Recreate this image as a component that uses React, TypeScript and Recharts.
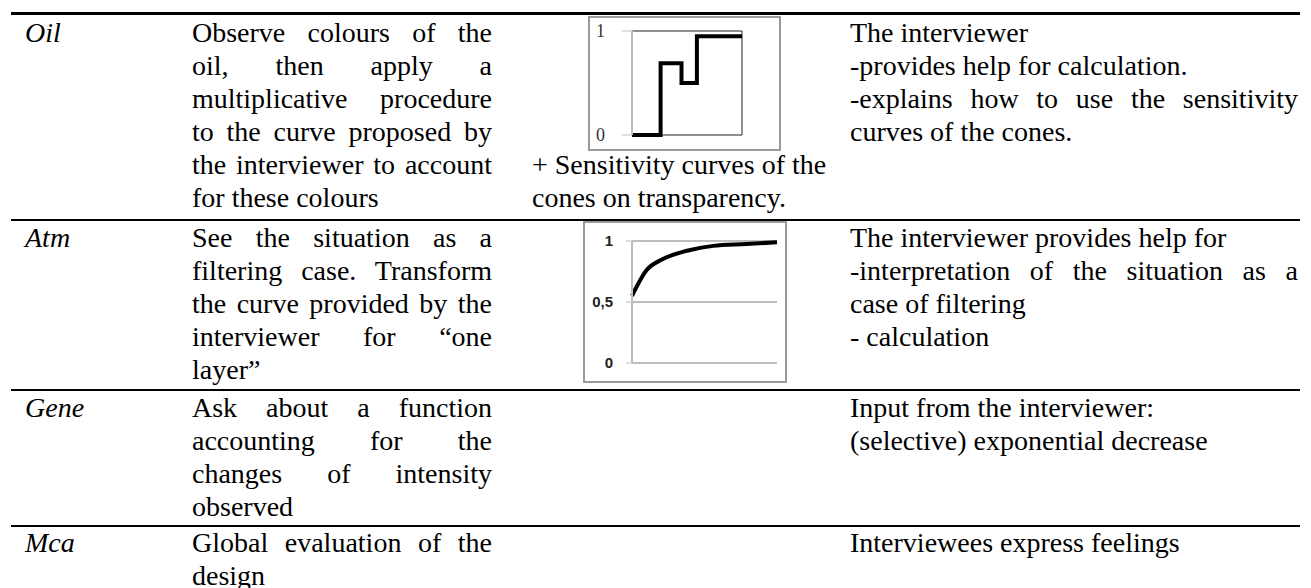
import React from 'react';
import { LineChart, Line, XAxis, YAxis, CartesianGrid, ReferenceLine } from 'recharts';

// Oil: stepped transmission curve (x = fraction of spectrum)
const oilX = [0, 0.26, 0.45, 0.59, 1];
const oilY = [0, 0.69, 0.5, 0.95, 0.95];
const oilTicks = [0, 1];

// Atm: filtering curve
const atmX = [0, 0.1, 0.21, 0.38, 0.56, 0.79, 1];
const atmY = [0.55, 0.76, 0.85, 0.92, 0.96, 0.975, 0.99];
const atmTicks = [0, 0.5, 1];

const oilData = oilX.map((x, i) => ({ x, y: oilY[i] }));
const atmData = atmX.map((x, i) => ({ x, y: atmY[i] }));

const FONT = 'Liberation Serif, Tinos, "Times New Roman", "DejaVu Serif", serif';
const LH = 33;

type LineProps = { x: number; top: number; w?: number; j?: boolean; it?: boolean; children: React.ReactNode };

// one text line of the table, justified when j is set
const T = ({ x, top, w, j, it, children }: LineProps) => (
    <div
        style={{
            position: 'absolute',
            left: x,
            top,
            width: w,
            whiteSpace: 'nowrap',
            fontFamily: FONT,
            fontSize: 28,
            lineHeight: `${LH}px`,
            height: LH,
            fontStyle: it ? 'italic' : 'normal',
            textAlign: j ? 'justify' : 'left',
            textAlignLast: j ? 'justify' : 'left',
            color: '#000',
        }}
    >
        {children}
    </div>
);

const Rule = ({ top, h }: { top: number; h: number }) => (
    <div style={{ position: 'absolute', left: 11, width: 1289, top, height: h, background: '#000' }} />
);

const C1 = 25;
const C2 = 192;
const W2 = 300;
const C3 = 532;
const C4 = 850;
const W4 = 448;

const rows = [16, 221, 391, 526];
const ln = (r: number, k: number) => rows[r] + k * LH;

const OilChart = () => (
    <div style={{ position: 'absolute', left: 588, top: 16, width: 193, height: 135, border: '2px solid #9a9a9a', boxSizing: 'border-box', background: '#fff' }}>
        <div style={{ position: 'absolute', left: -2, top: -2 }}>
            <LineChart width={193} height={135} data={oilData} margin={{ top: 15, right: 39, bottom: 16, left: 0 }}>
                <CartesianGrid horizontal vertical={false} stroke="#222" strokeWidth={1} />
                <XAxis type="number" dataKey="x" domain={[0, 1]} hide />
                <YAxis
                    type="number"
                    domain={[0, 1]}
                    ticks={oilTicks}
                    width={44}
                    axisLine={{ stroke: '#bdbdbd', strokeWidth: 2 }}
                    tickLine={{ stroke: '#bdbdbd' }}
                    tickSize={10}
                    tickMargin={17}
                    tick={{ fontFamily: FONT, fontSize: 18, fill: '#333' }}
                />
                <ReferenceLine x={1} stroke="#222" strokeWidth={1} />
                <Line type="stepAfter" dataKey="y" stroke="#000" strokeWidth={4} dot={false} isAnimationActive={false} />
            </LineChart>
        </div>
    </div>
);

const AtmChart = () => (
    <div style={{ position: 'absolute', left: 583, top: 221, width: 204, height: 162, border: '2px solid #9a9a9a', boxSizing: 'border-box', background: '#fff' }}>
        <div style={{ position: 'absolute', left: -2, top: -2 }}>
            <LineChart width={204} height={162} data={atmData} margin={{ top: 20, right: 10, bottom: 20, left: 0 }}>
                <CartesianGrid horizontal vertical={false} stroke="#a8a8a8" strokeWidth={1.5} />
                <XAxis type="number" dataKey="x" domain={[0, 1]} hide />
                <YAxis
                    type="number"
                    domain={[0, 1]}
                    ticks={atmTicks}
                    width={49}
                    axisLine={{ stroke: '#bdbdbd', strokeWidth: 2 }}
                    tickLine={{ stroke: '#bdbdbd' }}
                    tickSize={6}
                    tickMargin={13}
                    tickFormatter={(v: number) => (v === 0.5 ? '0,5' : String(v))}
                    tick={{ fontFamily: '"Liberation Sans", Arial, sans-serif', fontSize: 15, fontWeight: 'bold', fill: '#222' }}
                />
                <Line type="monotone" dataKey="y" stroke="#000" strokeWidth={4} dot={false} isAnimationActive={false} />
            </LineChart>
        </div>
    </div>
);

export default function App() {
    return (
        <div style={{ position: 'absolute', left: 0, top: 0, width: 1311, height: 588, overflow: 'hidden', background: '#fff' }}>
            <Rule top={12} h={3} />
            <Rule top={219} h={2} />
            <Rule top={389} h={2} />
            <Rule top={525} h={2} />

            {/* Oil */}
            <T x={C1} top={ln(0, 0)} it>Oil</T>
            <T x={C2} top={ln(0, 0)} w={W2} j>Observe colours of the</T>
            <T x={C2} top={ln(0, 1)} w={W2} j>oil, then apply a</T>
            <T x={C2} top={ln(0, 2)} w={W2} j>multiplicative procedure</T>
            <T x={C2} top={ln(0, 3)} w={W2} j>to the curve proposed by</T>
            <T x={C2} top={ln(0, 4)} w={W2} j>the interviewer to account</T>
            <T x={C2} top={ln(0, 5)}>for these colours</T>
            <OilChart />
            <T x={C3} top={ln(0, 4)}>+ Sensitivity curves of the</T>
            <T x={C3} top={ln(0, 5)}>cones on transparency.</T>
            <T x={C4} top={ln(0, 0)}>The interviewer</T>
            <T x={C4} top={ln(0, 1)}>-provides help for calculation.</T>
            <T x={C4} top={ln(0, 2)} w={W4} j>-explains how to use the sensitivity</T>
            <T x={C4} top={ln(0, 3)}>curves of the cones.</T>

            {/* Atm */}
            <T x={C1} top={ln(1, 0)} it>Atm</T>
            <T x={C2} top={ln(1, 0)} w={W2} j>See the situation as a</T>
            <T x={C2} top={ln(1, 1)} w={W2} j>filtering case. Transform</T>
            <T x={C2} top={ln(1, 2)} w={W2} j>the curve provided by the</T>
            <T x={C2} top={ln(1, 3)} w={W2} j>interviewer for “one</T>
            <T x={C2} top={ln(1, 4)}>layer”</T>
            <AtmChart />
            <T x={C4} top={ln(1, 0)}>The interviewer provides help for</T>
            <T x={C4} top={ln(1, 1)} w={W4} j>-interpretation of the situation as a</T>
            <T x={C4} top={ln(1, 2)}>case of filtering</T>
            <T x={C4} top={ln(1, 3)}>- calculation</T>

            {/* Gene */}
            <T x={C1} top={ln(2, 0)} it>Gene</T>
            <T x={C2} top={ln(2, 0)} w={W2} j>Ask about a function</T>
            <T x={C2} top={ln(2, 1)} w={W2} j>accounting for the</T>
            <T x={C2} top={ln(2, 2)} w={W2} j>changes of intensity</T>
            <T x={C2} top={ln(2, 3)}>observed</T>
            <T x={C4} top={ln(2, 0)}>Input from the interviewer:</T>
            <T x={C4} top={ln(2, 1)}>(selective) exponential decrease</T>

            {/* Mca */}
            <T x={C1} top={ln(3, 0)} it>Mca</T>
            <T x={C2} top={ln(3, 0)} w={W2} j>Global evaluation of the</T>
            <T x={C2} top={ln(3, 1)}>design</T>
            <T x={C4} top={ln(3, 0)}>Interviewees express feelings</T>
        </div>
    );
}
